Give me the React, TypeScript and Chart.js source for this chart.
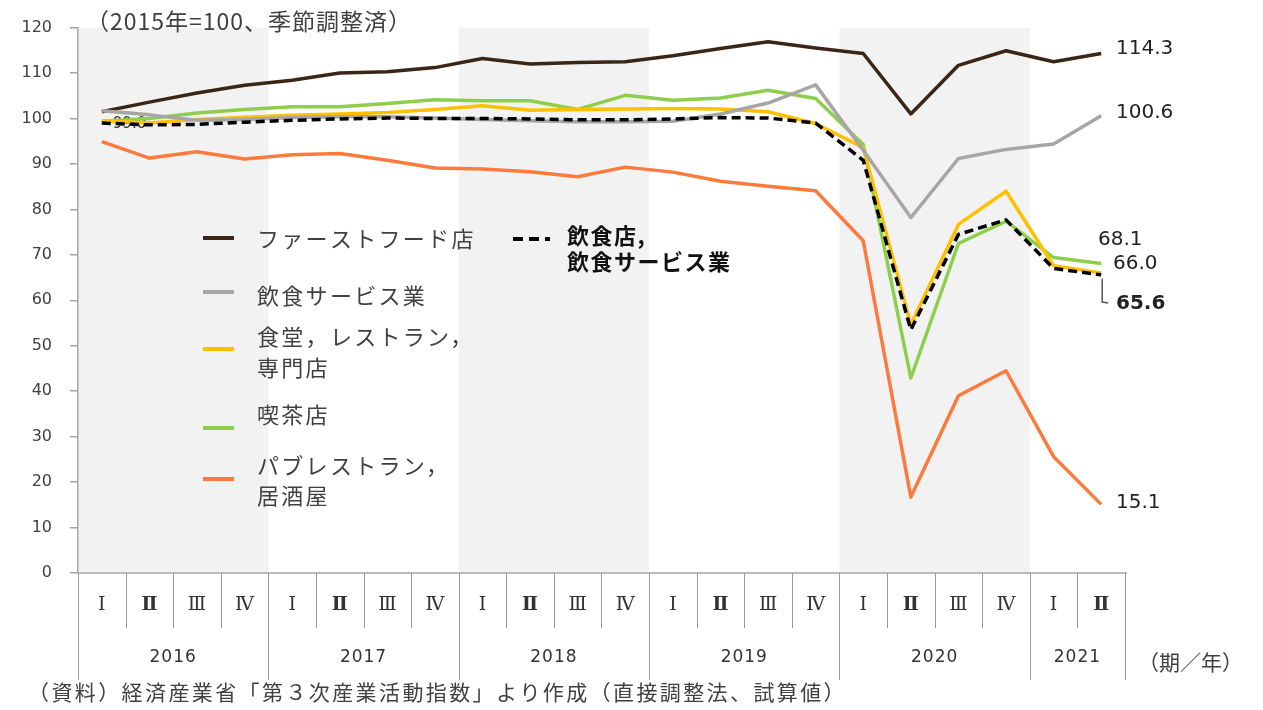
import React, { useEffect, useRef } from 'react';
import { Chart, registerables } from 'chart.js';

Chart.register(...registerables);

// ---------- data ----------
const categories = [
  '2016-1', '2016-2', '2016-3', '2016-4',
  '2017-1', '2017-2', '2017-3', '2017-4',
  '2018-1', '2018-2', '2018-3', '2018-4',
  '2019-1', '2019-2', '2019-3', '2019-4',
  '2020-1', '2020-2', '2020-3', '2020-4',
  '2021-1', '2021-2',
];
const quarterLabels = [
  'Ⅰ', 'Ⅱ', 'Ⅲ', 'Ⅳ', 'Ⅰ', 'Ⅱ', 'Ⅲ', 'Ⅳ', 'Ⅰ', 'Ⅱ', 'Ⅲ', 'Ⅳ',
  'Ⅰ', 'Ⅱ', 'Ⅲ', 'Ⅳ', 'Ⅰ', 'Ⅱ', 'Ⅲ', 'Ⅳ', 'Ⅰ', 'Ⅱ',
];
const yearLabels = ['2016', '2017', '2018', '2019', '2020', '2021'];
const yearQuarterCounts = [4, 4, 4, 4, 4, 2];
const shadedYears = ['2016', '2018', '2020'];

const fastFood = [101.5, 103.6, 105.6, 107.3, 108.4, 110.0, 110.3, 111.2, 113.2, 112.0, 112.3, 112.5, 113.8, 115.4, 116.9, 115.5, 114.3, 101.0, 111.7, 114.9, 112.5, 114.3];
const foodService = [101.7, 100.8, 99.6, 99.8, 100.2, 100.4, 100.4, 100.1, 99.8, 99.5, 99.3, 99.3, 99.4, 101.0, 103.4, 107.4, 93.0, 78.2, 91.2, 93.2, 94.4, 100.6];
const restaurants = [99.5, 99.0, 99.8, 100.3, 100.7, 101.0, 101.3, 102.0, 102.8, 101.8, 102.0, 102.1, 102.2, 102.1, 101.5, 98.9, 93.6, 54.6, 76.7, 84.0, 67.6, 66.0];
const cafes = [99.4, 100.0, 101.2, 102.0, 102.6, 102.6, 103.3, 104.1, 103.9, 103.9, 102.0, 105.1, 104.0, 104.5, 106.2, 104.4, 94.3, 42.9, 72.5, 77.4, 69.4, 68.1];
const pubs = [94.9, 91.3, 92.7, 91.1, 92.0, 92.3, 90.8, 89.1, 88.9, 88.3, 87.2, 89.3, 88.2, 86.2, 85.1, 84.1, 73.1, 16.7, 39.0, 44.5, 25.6, 15.1];
const eatingDrinking = [99.0, 98.6, 98.7, 99.2, 99.6, 99.9, 100.1, 100.0, 100.0, 99.9, 99.7, 99.7, 99.9, 100.2, 100.1, 99.0, 90.8, 53.5, 74.5, 77.7, 67.0, 65.6];

const seriesNames = ['ファーストフード店', '飲食サービス業', '食堂，レストラン，\n専門店', '喫茶店', 'パブレストラン，\n居酒屋'];
const totalName = '飲食店,\n飲食サービス業';

const yMin = 0;
const yMax = 120;
const yStep = 10;

const titleText = '（2015年=100、季節調整済）';
const sourceText = '（資料）経済産業省「第３次産業活動指数」より作成（直接調整法、試算値）';
const axisUnitText = '（期／年）';

// ---------- styles ----------
const COLORS = {
  fastFood: '#3a2516',
  foodService: '#a6a6a6',
  restaurants: '#ffc000',
  cafes: '#8dcf4a',
  pubs: '#fb7a3c',
  total: '#000000',
  text: '#404040',
  axis: '#a6a6a6',
  band: '#f2f2f2',
};
const FONT_JP = "'Noto Sans CJK JP', 'Noto Sans', sans-serif";
const FONT_NUM = "'DejaVu Sans', Verdana, sans-serif";
const FONT_ROMAN = "'DejaVu Serif', 'Liberation Serif', serif";

function drawText(
  ctx: CanvasRenderingContext2D,
  s: string,
  x: number,
  y: number,
  font: string,
  color: string,
  align: CanvasTextAlign = 'left',
  spacing = 0,
) {
  ctx.save();
  ctx.font = font;
  ctx.fillStyle = color;
  ctx.textAlign = align;
  ctx.textBaseline = 'middle';
  (ctx as any).letterSpacing = spacing + 'px';
  ctx.fillText(s, x, y);
  ctx.restore();
}

const decorPlugin = {
  id: 'decor',
  beforeDraw(chart: any) {
    const { ctx, scales } = chart;
    const x = scales.x;
    const y = scales.y;
    const half = (x.getPixelForValue(1) - x.getPixelForValue(0)) / 2;
    let start = 0;
    yearLabels.forEach((yr, i) => {
      const n = yearQuarterCounts[i];
      if (shadedYears.includes(yr)) {
        const l = x.getPixelForValue(start) - half;
        const r = x.getPixelForValue(start + n - 1) + half;
        const t = y.getPixelForValue(yMax);
        const b = y.getPixelForValue(yMin);
        ctx.save();
        ctx.fillStyle = COLORS.band;
        ctx.fillRect(l, t, r - l, b - t);
        ctx.restore();
      }
      start += n;
    });
  },
  beforeDatasetsDraw(chart: any) {
    const { ctx, scales } = chart;
    const x = scales.x;
    const y = scales.y;
    // first value label of total series (struck through by the dashed line)
    drawText(ctx, eatingDrinking[0].toFixed(1), x.getPixelForValue(0) + 11, y.getPixelForValue(eatingDrinking[0]) + 1, `15px ${FONT_NUM}`, '#333333');
  },
  afterDatasetsDraw(chart: any) {
    const { ctx, scales, chartArea } = chart;
    const x = scales.x;
    const y = scales.y;
    const half = (x.getPixelForValue(1) - x.getPixelForValue(0)) / 2;
    const bottom = chartArea.bottom;
    const last = categories.length - 1;

    // title
    drawText(ctx, titleText, 86, 21, `23px ${FONT_JP}`, COLORS.text, 'left', 1);

    // x axis line
    ctx.save();
    ctx.strokeStyle = COLORS.axis;
    ctx.lineWidth = 1.5;
    ctx.beginPath();
    ctx.moveTo(chartArea.left, bottom);
    ctx.lineTo(x.getPixelForValue(last) + half + 2, bottom);
    ctx.stroke();

    // dividers
    ctx.lineWidth = 1;
    ctx.strokeStyle = '#999999';
    let idx = 0;
    const yearStarts: number[] = [];
    yearQuarterCounts.forEach((n) => {
      yearStarts.push(idx);
      idx += n;
    });
    for (let i = 0; i <= categories.length; i++) {
      const px = Math.round(x.getPixelForValue(0) - half + i * 2 * half) + 0.5;
      const isYear = yearStarts.includes(i) || i === categories.length;
      ctx.beginPath();
      ctx.moveTo(px, bottom);
      ctx.lineTo(px, isYear ? 680 : 628);
      ctx.stroke();
    }
    ctx.restore();

    // quarter labels
    quarterLabels.forEach((q, i) => {
      const bold = q === 'Ⅱ';
      drawText(ctx, q, x.getPixelForValue(i), 605, `${bold ? 'bold ' : ''}19px ${FONT_ROMAN}`, '#333333', 'center');
    });
    // year labels
    yearLabels.forEach((yr, i) => {
      const s = yearStarts[i];
      const cx = (x.getPixelForValue(s) + x.getPixelForValue(s + yearQuarterCounts[i] - 1)) / 2;
      drawText(ctx, yr, cx, 658, `17px ${FONT_NUM}`, '#333333', 'center', 1);
    });
    drawText(ctx, axisUnitText, 1138, 662, `21px ${FONT_JP}`, COLORS.text, 'left', 0);
    drawText(ctx, sourceText, 28, 692, `21px ${FONT_JP}`, COLORS.text, 'left', 2.4);

    // end labels
    const endFont = `20px ${FONT_NUM}`;
    drawText(ctx, fastFood[last].toFixed(1), 1116, 49, endFont, '#222222');
    drawText(ctx, foodService[last].toFixed(1), 1116, 113, endFont, '#222222');
    drawText(ctx, cafes[last].toFixed(1), 1098, 240, endFont, '#222222');
    drawText(ctx, restaurants[last].toFixed(1), 1113, 264, endFont, '#222222');
    drawText(ctx, pubs[last].toFixed(1), 1116, 503, endFont, '#222222');
    drawText(ctx, eatingDrinking[last].toFixed(1), 1116, 304, `bold ${endFont}`, '#222222');
    // leader line for total
    const lx = x.getPixelForValue(last) + 1;
    ctx.save();
    ctx.strokeStyle = '#555555';
    ctx.lineWidth = 1.5;
    ctx.beginPath();
    ctx.moveTo(lx, y.getPixelForValue(eatingDrinking[last]) + 4);
    ctx.lineTo(lx, 302);
    ctx.lineTo(lx + 6, 303);
    ctx.stroke();
    ctx.restore();

    // legend
    const legendRows = [
      { color: COLORS.fastFood, lineY: 238, textY: [239] },
      { color: COLORS.foodService, lineY: 292, textY: [296] },
      { color: COLORS.restaurants, lineY: 349, textY: [337, 368] },
      { color: COLORS.cafes, lineY: 428, textY: [415] },
      { color: COLORS.pubs, lineY: 479, textY: [466, 496] },
    ];
    legendRows.forEach((row, i) => {
      ctx.save();
      ctx.strokeStyle = row.color;
      ctx.lineWidth = 4;
      ctx.beginPath();
      ctx.moveTo(203, row.lineY);
      ctx.lineTo(234, row.lineY);
      ctx.stroke();
      ctx.restore();
      const lines = seriesNames[i].split('\n');
      lines.forEach((ln, j) => {
        drawText(ctx, ln, 257, row.textY[j], `22px ${FONT_JP}`, COLORS.text, 'left', 2.3);
      });
    });
    ctx.save();
    ctx.strokeStyle = COLORS.total;
    ctx.lineWidth = 4;
    ctx.setLineDash([10, 6]);
    ctx.beginPath();
    ctx.moveTo(513, 239);
    ctx.lineTo(550, 239);
    ctx.stroke();
    ctx.restore();
    totalName.split('\n').forEach((ln, j) => {
      drawText(ctx, ln, 567, [236, 262][j], `bold 22px ${FONT_JP}`, '#111111', 'left', 1.5);
    });
  },
};

export default function App() {
  const canvasRef = useRef<HTMLCanvasElement | null>(null);

  useEffect(() => {
    const canvas = canvasRef.current;
    if (!canvas) return;
    const line = (label: string, data: number[], color: string, order: number, dash?: number[]) => ({
      label,
      data,
      borderColor: color,
      backgroundColor: color,
      borderWidth: 3.5,
      borderDash: dash || [],
      pointRadius: 0,
      tension: 0,
      fill: false,
      order,
      borderJoinStyle: 'round' as const,
    });
    const chart = new Chart(canvas, {
      type: 'line',
      data: {
        labels: categories,
        datasets: [
          line(seriesNames[4], pubs, COLORS.pubs, 5),
          line(seriesNames[3], cafes, COLORS.cafes, 4),
          line(seriesNames[2], restaurants, COLORS.restaurants, 3),
          line(seriesNames[0], fastFood, COLORS.fastFood, 2),
          line(seriesNames[1], foodService, COLORS.foodService, 1),
          line(totalName, eatingDrinking, COLORS.total, 0, [9, 5]),
        ],
      },
      options: {
        animation: false,
        responsive: false,
        maintainAspectRatio: false,
        devicePixelRatio: 1,
        layout: { padding: { left: 0, right: 138, top: 23, bottom: 137 } },
        plugins: {
          legend: { display: false },
          tooltip: { enabled: false },
        },
        scales: {
          x: { display: false, offset: true },
          y: {
            min: yMin,
            max: yMax,
            afterFit: (s: any) => {
              s.width = 78;
            },
            ticks: {
              stepSize: yStep,
              padding: 18,
              color: COLORS.text,
              font: { family: FONT_NUM, size: 16 },
            },
            grid: {
              drawOnChartArea: false,
              drawTicks: true,
              tickLength: 8,
              color: COLORS.axis,
              lineWidth: 1.5,
            },
            border: { color: COLORS.axis, width: 1.5 },
          },
        },
      },
      plugins: [decorPlugin],
    });
    return () => chart.destroy();
  }, []);

  return (
    <div style={{ position: 'absolute', left: 0, top: 0, width: 1263, height: 710, background: '#ffffff' }}>
      <canvas ref={canvasRef} width={1263} height={710} style={{ display: 'block', width: 1263, height: 710 }} />
    </div>
  );
}
